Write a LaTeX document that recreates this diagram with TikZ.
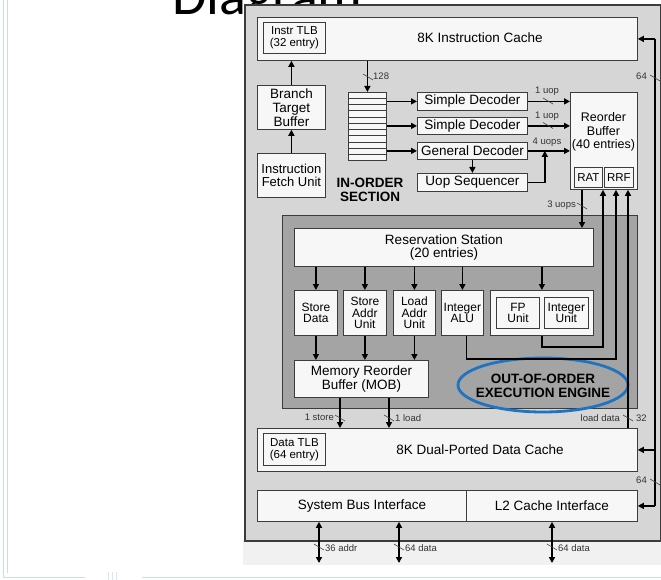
\documentclass[tikz,border=0pt]{standalone}
\usepackage{fontspec}
\setmainfont{Liberation Sans}
\newfontfamily\titlefont{Carlito}
\usetikzlibrary{arrows.meta,calc}
\definecolor{chipgray}{HTML}{D6D6D6}
\definecolor{enginegray}{HTML}{A4A4A4}
\definecolor{boxwhite}{HTML}{F7F7F7}
\definecolor{boxline}{HTML}{3C3C3C}
\definecolor{slideblue}{HTML}{C9DDEE}
\definecolor{ovalblue}{HTML}{1F74C2}
\definecolor{padgray}{HTML}{F1F1F1}
\tikzset{
  blk/.style={draw=boxline, fill=boxwhite, line width=0.8pt, inner sep=0pt,
    anchor=north west, align=center, font=\fontsize{13.5}{14.5}\selectfont},
  wire/.style={line width=1.4pt, black},
  arr/.style={wire, -{Triangle[length=6pt,width=6pt]}},
  biarr/.style={wire, {Triangle[length=6pt,width=6pt]}-{Triangle[length=6pt,width=6pt]}},
  tick/.style={line width=0.6pt, black!75},
  small/.style={font=\fontsize{9.5}{10}\selectfont, inner sep=0pt, text=black!80},
  lbl/.style={inner sep=0pt, align=center, font=\fontsize{13.5}{14.5}\selectfont},
  boldlbl/.style={inner sep=0pt, align=center, font=\bfseries\fontsize{13.5}{13.5}\selectfont}
}
% short slanted stroke across a bus, marking its width
\newcommand\wiremark[1]{\draw[tick] ($(#1)+(-5,-3)$) -- ($(#1)+(5,3)$);}
\begin{document}
\begin{tikzpicture}[x=1pt,y=-1pt]
\useasboundingbox (0,0) rectangle (661,580);
\clip (0,0) rectangle (661,580);

% slide title, mostly hidden behind the block diagram
\node[anchor=base west, inner sep=0pt, font=\titlefont\fontsize{56}{56}\selectfont] (title) at (172,15) {Diagram};

% slide frame
\draw[slideblue, line width=0.8pt] (3.5,0) -- (3.5,577) -- (85,577);
\draw[slideblue, line width=0.8pt] (7,0) -- (7,573);
\draw[slideblue, line width=0.8pt] (142,577) -- (661,577);
\foreach \xx in {108,112,116} \draw[slideblue!70, line width=0.6pt] (\xx,572) -- (\xx,580);

% chip outline and pin area
\fill[padgray] (243,540) rectangle (661,565);
\node[draw=boxline, fill=chipgray, line width=1.6pt, minimum width=416pt, minimum height=536pt,
      anchor=north west, inner sep=0pt] (chip) at (244,4) {};

% ---------------- in-order section ----------------
\node[blk, minimum width=380pt, minimum height=43pt] (icache) at (257,17) {};
\node[lbl] (icachetxt) at (480,38) {8K Instruction Cache};
\node[blk, minimum width=62pt, minimum height=31pt, font=\fontsize{11.5}{12.5}\selectfont] (itlb) at (263,22) {Instr TLB\\(32 entry)};

\node[blk, minimum width=68pt, minimum height=44pt, font=\fontsize{13.5}{14}\selectfont] (btb) at (257,85) {Branch\\Target\\Buffer};
\node[blk, minimum width=68pt, minimum height=44pt, font=\fontsize{13}{13.5}\selectfont] (ifu) at (257,153) {Instruction\\Fetch Unit};
\node[boldlbl] (inorder) at (370,190) {IN-ORDER\\SECTION};

\node[blk, minimum width=38pt, minimum height=68pt] (queue) at (348,92) {};
\foreach \i in {1,...,10}
  \draw[boxline, line width=0.6pt] ($(queue.north west)!\i/11!(queue.south west)$) -- ($(queue.north east)!\i/11!(queue.south east)$);

\node[blk, minimum width=110pt, minimum height=18pt] (sd1) at (417,92) {Simple Decoder};
\node[blk, minimum width=110pt, minimum height=17pt] (sd2) at (417,117) {Simple Decoder};
\node[blk, minimum width=110pt, minimum height=17pt] (gd) at (417,142) {General Decoder};
\node[blk, minimum width=110pt, minimum height=18pt] (useq) at (417,173) {Uop Sequencer};

\node[blk, minimum width=67pt, minimum height=97pt] (rob) at (570,92) {};
\node[lbl, font=\fontsize{12.5}{13.5}\selectfont] (robtxt) at (603.5,132) {Reorder\\Buffer\\(40 entries)};
\node[blk, minimum width=28pt, minimum height=20pt, font=\fontsize{11.5}{12}\selectfont] (rat) at (574,167) {RAT};
\node[blk, minimum width=29pt, minimum height=20pt, font=\fontsize{11.5}{12}\selectfont] (rrf) at (604,167) {RRF};

% ---------------- out-of-order engine ----------------
\node[draw=boxline, fill=enginegray, line width=1pt, minimum width=355pt, minimum height=193pt,
      anchor=north west, inner sep=0pt] (engine) at (282,215) {};
\node[blk, minimum width=299pt, minimum height=38pt, font=\fontsize{13.5}{13.5}\selectfont] (rs) at (294,228) {Reservation Station\\(20 entries)};

\node[blk, minimum width=43pt, minimum height=45pt, font=\fontsize{12}{11.5}\selectfont] (sdata) at (294,290) {Store\\Data};
\node[blk, minimum width=43pt, minimum height=45pt, font=\fontsize{12}{11.5}\selectfont] (saddr) at (343,290) {Store\\Addr\\Unit};
\node[blk, minimum width=42pt, minimum height=45pt, font=\fontsize{12}{11.5}\selectfont] (laddr) at (393,290) {Load\\Addr\\Unit};
\node[blk, minimum width=42pt, minimum height=45pt, font=\fontsize{12}{11.5}\selectfont] (ialu) at (441,290) {Integer\\ALU};
\node[blk, minimum width=103pt, minimum height=45pt] (fpbox) at (490,290) {};
\node[blk, minimum width=43pt, minimum height=31pt, line width=1.1pt, font=\fontsize{12}{11.5}\selectfont] (fpu) at (496,297) {FP\\Unit};
\node[blk, minimum width=44pt, minimum height=31pt, font=\fontsize{12}{11.5}\selectfont] (iu) at (544,297) {Integer\\Unit};

\node[blk, minimum width=134pt, minimum height=37pt, font=\fontsize{13.5}{13.5}\selectfont] (mob) at (294,360) {Memory Reorder\\Buffer (MOB)};

\draw[ovalblue, line width=2.8pt] (543,385) ellipse [x radius=85, y radius=27];
\node[boldlbl] (ooo) at (543,386) {OUT-OF-ORDER\\EXECUTION ENGINE};

% ---------------- memory side ----------------
\node[blk, minimum width=380pt, minimum height=43pt] (dcache) at (257,428) {};
\node[lbl] (dcachetxt) at (480,450) {8K Dual-Ported Data Cache};
\node[blk, minimum width=62pt, minimum height=32pt, font=\fontsize{11.5}{12}\selectfont] (dtlb) at (263,433) {Data TLB\\(64 entry)};

\node[blk, minimum width=209pt, minimum height=31pt] (sbi) at (257,490) {System Bus Interface};
\node[blk, minimum width=171pt, minimum height=31pt] (l2i) at (466,490) {L2 Cache Interface};

% ---------------- connectors ----------------
\draw[arr] (ifu.north) -- (btb.south);
\draw[arr] (btb.north) -- (btb.north |- icache.south);
\draw[arr] (icache.south -| queue.north) -- (queue.north);
\wiremark{368,77}
\node[small, anchor=west] (w128) at (373,76) {128};

\draw[arr] (sd1.west -| queue.east) -- (sd1.west);
\draw[arr] (sd2.west -| queue.east) -- (sd2.west);
\draw[arr] (gd.west -| queue.east) -- (gd.west);
\draw[arr] (gd.south) -- (useq.north);

\draw[arr] (sd1.east) -- (sd1.east -| rob.west);
\draw[arr] (sd2.east) -- (sd2.east -| rob.west);
\draw[arr] (gd.east) -- (gd.east -| rob.west);
\coordinate (seqjoin) at ($(gd.east)+(17,0)$);
\draw[arr] (useq.east) -| (seqjoin);
\wiremark{548,101}
\wiremark{548,125.5}
\node[small] (u1) at (547,91) {1 uop};
\node[small] (u2) at (547,116) {1 uop};
\node[small] (u4) at (547,142) {4 uops};

\coordinate (robout) at ($(rob.south west)+(12,0)$);
\draw[arr] (robout) -- (robout |- rs.north);
\wiremark{582,206}
\node[small, anchor=east] (u3) at (576,205) {3 uops};

\foreach \u in {sdata,saddr,laddr,ialu,fpbox}
  \draw[arr] (rs.south -| \u.north) -- (\u.north);
\foreach \u in {sdata,saddr,laddr}
  \draw[arr] (\u.south) -- (\u.south |- mob.north);

\coordinate (ret1) at ($(rob.south west)+(33,0)$);
\coordinate (ret2) at ($(rob.south west)+(46,0)$);
\coordinate (ret3) at ($(rob.south west)+(58,0)$);
\draw[arr] (fpbox.south) -- ++(0,11) -| (ret1);
\draw[arr] ($(ialu.south)+(4,0)$) -- ++(0,23) -| (ret2);
\draw[arr] (dcache.north -| ret3) -- (ret3);
\wiremark{628,418}
\node[small, anchor=east] (ld) at (620,418) {load data};
\node[small, anchor=west] (w32) at (636,418) {32};

\coordinate (stport) at ($(mob.south west)+(46,0)$);
\coordinate (ldport) at ($(mob.south west)+(95,0)$);
\draw[arr] (stport) -- (stport |- dcache.north);
\draw[arr] (ldport) -- (ldport |- dcache.north);
\wiremark{340,418}
\wiremark{389,418}
\node[small, anchor=east] (st1) at (334,417) {1 store};
\node[small, anchor=west] (ld1) at (395,418) {1 load};

% back-side bus from the L2 interface
\coordinate (bus) at (655,0);
\draw[wire] (icache.east -| bus) -- (l2i.east -| bus);
\draw[arr] (icache.east -| bus) -- (icache.east);
\draw[arr] (dcache.east -| bus) -- (dcache.east);
\draw[arr] (l2i.east -| bus) -- (l2i.east);
\wiremark{655,78}
\wiremark{655,482}
\node[small, anchor=east] (b64a) at (647,76) {64};
\node[small, anchor=east] (b64b) at (647,480) {64};

% external pins
\coordinate (pinA) at (319,563);
\coordinate (pinD) at (399,563);
\coordinate (pinL) at (552,563);
\draw[biarr] (sbi.south -| pinA) -- (pinA);
\draw[biarr] (sbi.south -| pinD) -- (pinD);
\draw[biarr] (l2i.south -| pinL) -- (pinL);
\wiremark{319,547}
\wiremark{399,547}
\wiremark{552,547}
\node[small, anchor=west] (pa) at (325,548) {36 addr};
\node[small, anchor=west] (pd) at (405,548) {64 data};
\node[small, anchor=west] (pl) at (558,548) {64 data};
\end{tikzpicture}
\end{document}
